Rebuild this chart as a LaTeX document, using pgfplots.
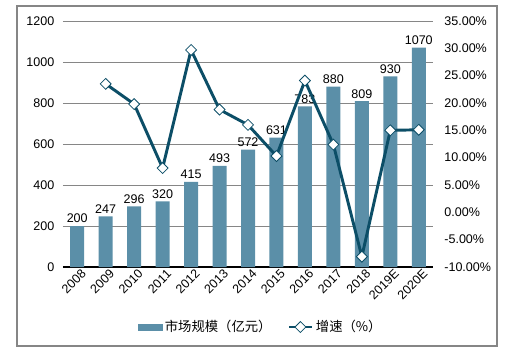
\documentclass[border=0pt]{standalone}
\usepackage{pgfplots}
\pgfplotsset{compat=1.18}
\usepackage{fontspec}
\setmainfont{Liberation Sans}
\newfontfamily\cjk{Noto Sans CJK SC}
\definecolor{barc}{HTML}{5B8FA8}
\definecolor{linec}{HTML}{0C4E67}
\definecolor{gridc}{HTML}{868686}
\pgfplotsset{every axis/.append style={font=\fontsize{9.4}{11}\selectfont},
  /pgf/number format/1000 sep={}}
\begin{document}
\begin{tikzpicture}
\path[use as bounding box] (-47.25pt,-64.5pt) rectangle (342.75pt,200.25pt);
\draw[gridc, line width=0.8pt] (-34.5pt,-59.25pt) rectangle (325.5pt,195.75pt);
\begin{axis}[
  at={(0pt,0pt)}, anchor=south west,
  scale only axis, width=277.5pt, height=184.5pt,
  xmin=-0.5, xmax=12.5, ymin=0, ymax=1200,
  xtick={0,...,12},
  xticklabels={2008,2009,2010,2011,2012,2013,2014,2015,2016,2017,2018,2019E,2020E},
  xticklabel style={rotate=45, anchor=east, inner sep=0pt, yshift=-6pt, xshift=1pt},
  ytick={0,200,...,1200},
  /pgf/number format/assume math mode=true,
  yticklabel style={xshift=-3pt},
  axis x line*=bottom, axis y line*=left,
  y axis line style={draw=none},
  x axis line style={black, line width=0.8pt, -},
  major tick length=0pt,
  ymajorgrids, grid style={gridc, line width=0.7pt},
  ybar, bar width=10.5pt,
  nodes near coords,
  every node near coord/.style={font=\fontsize{9.4}{11}\selectfont, black, inner sep=2pt},
]
\addplot[fill=barc, draw=none] coordinates {
(0,200) (1,247) (2,296) (3,320) (4,415) (5,493) (6,572) (7,631) (8,783) (9,880) (10,809) (11,930) (12,1070)};
\end{axis}
\begin{axis}[
  at={(0pt,0pt)}, anchor=south west,
  scale only axis, width=277.5pt, height=184.5pt,
  xmin=-0.5, xmax=12.5, ymin=-10, ymax=35,
  axis x line=none, axis y line*=right,
  y axis line style={draw=none},
  major tick length=0pt,
  ytick={-10,-5,...,35},
  /pgf/number format/assume math mode=true,
  yticklabel={\pgfmathprintnumber[fixed, fixed zerofill, precision=2]{\tick}\%},
  yticklabel style={xshift=5pt},
  legend style={at={(0.535,-0.244)}, anchor=center, draw=none, legend columns=2,
    font=\fontsize{10}{11}\selectfont, /tikz/every even column/.append style={column sep=10pt}},
]
\addlegendimage{legend image code/.code={\fill[barc] (0pt,-2.4pt) rectangle (18pt,2.4pt);}}
\addlegendentry{\cjk 市场规模（亿元）}
\addplot[linec, line width=2.2pt, mark=square*, mark size=2.9pt,
  mark options={fill=white, draw=linec, line width=0.6pt, rotate=45}] coordinates {
(1,23.5) (2,19.8) (3,8.1) (4,29.7) (5,18.8) (6,16.0) (7,10.3) (8,24.1) (9,12.4) (10,-8.1) (11,15.0) (12,15.1)};
\addlegendentry{\cjk 增速（\%）}
\end{axis}
\end{tikzpicture}
\end{document}
